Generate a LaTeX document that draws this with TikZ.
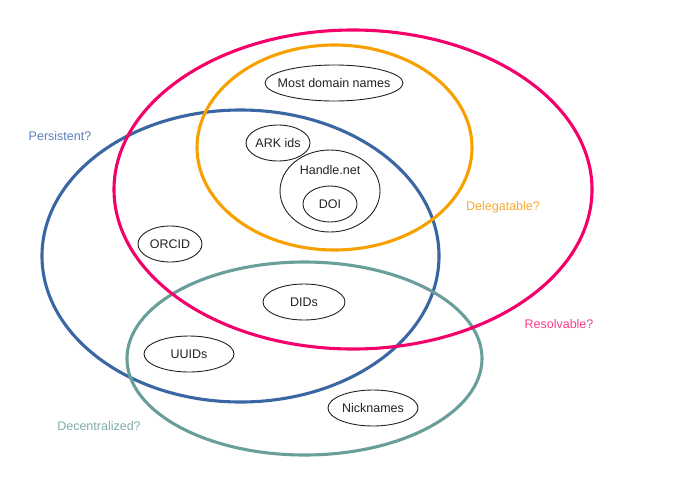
\documentclass[tikz,border=0pt]{standalone}
\usepackage{fontspec}
\setmainfont{Liberation Sans}
\usetikzlibrary{shapes.geometric}
\definecolor{cblue}{HTML}{3A66A4}
\definecolor{cpink}{HTML}{F5006A}
\definecolor{corange}{HTML}{F7A000}
\definecolor{cteal}{HTML}{6A9E9B}
\definecolor{lblue}{HTML}{5A7FBA}
\definecolor{lpink}{HTML}{FA3C8A}
\definecolor{lorange}{HTML}{F8AA30}
\definecolor{lteal}{HTML}{7FACA9}
\definecolor{ink}{HTML}{222222}
\begin{document}
\begin{tikzpicture}[x=1pt,y=-1pt,
  big/.style={line width=3.1pt},
  item/.style={draw=ink,text=ink,line width=0.9pt,ellipse,inner sep=0pt,font=\fontsize{12.5}{15}\selectfont},
  lbl/.style={font=\fontsize{12.5}{15}\selectfont}]
\useasboundingbox (0,0) rectangle (700,490);
\draw[big,cblue] (240.5,256) ellipse [x radius=198.5,y radius=146];
\draw[big,cteal] (304.5,358.5) ellipse [x radius=177.5,y radius=96.5];
\draw[big,cpink] (353,189.5) ellipse [x radius=239,y radius=159.5];
\draw[big,corange] (334.5,147.5) ellipse [x radius=137.5,y radius=102.5];
\node[item,minimum width=138pt,minimum height=36pt] (mdn) at (334,83) {\makebox[0pt]{Most domain names}};
\node[item,minimum width=64pt,minimum height=36pt] (ark) at (278,143) {\makebox[0pt]{ARK ids}};
\node[item,minimum width=100pt,minimum height=82pt] (handle) at (330,191) {};
\node[lbl,text=ink] (handlet) at (330,170) {Handle.net};
\node[item,minimum width=54pt,minimum height=36pt] (doi) at (330,204) {\makebox[0pt]{DOI}};
\node[item,minimum width=64pt,minimum height=36pt] (orcid) at (170,244) {\makebox[0pt]{ORCID}};
\node[item,minimum width=82pt,minimum height=36pt] (dids) at (304,302) {\makebox[0pt]{DIDs}};
\node[item,minimum width=90pt,minimum height=36pt] (uuids) at (189,354) {\makebox[0pt]{UUIDs}};
\node[item,minimum width=90pt,minimum height=36pt] (nick) at (373,408) {\makebox[0pt]{Nicknames}};
\node[lbl,text=lblue] (pers) at (60,136) {Persistent?};
\node[lbl,text=lorange] (deleg) at (503,207) {Delegatable?};
\node[lbl,text=lpink] (resol) at (559,324) {Resolvable?};
\node[lbl,text=lteal] (decen) at (99,426) {Decentralized?};
\end{tikzpicture}
\end{document}
